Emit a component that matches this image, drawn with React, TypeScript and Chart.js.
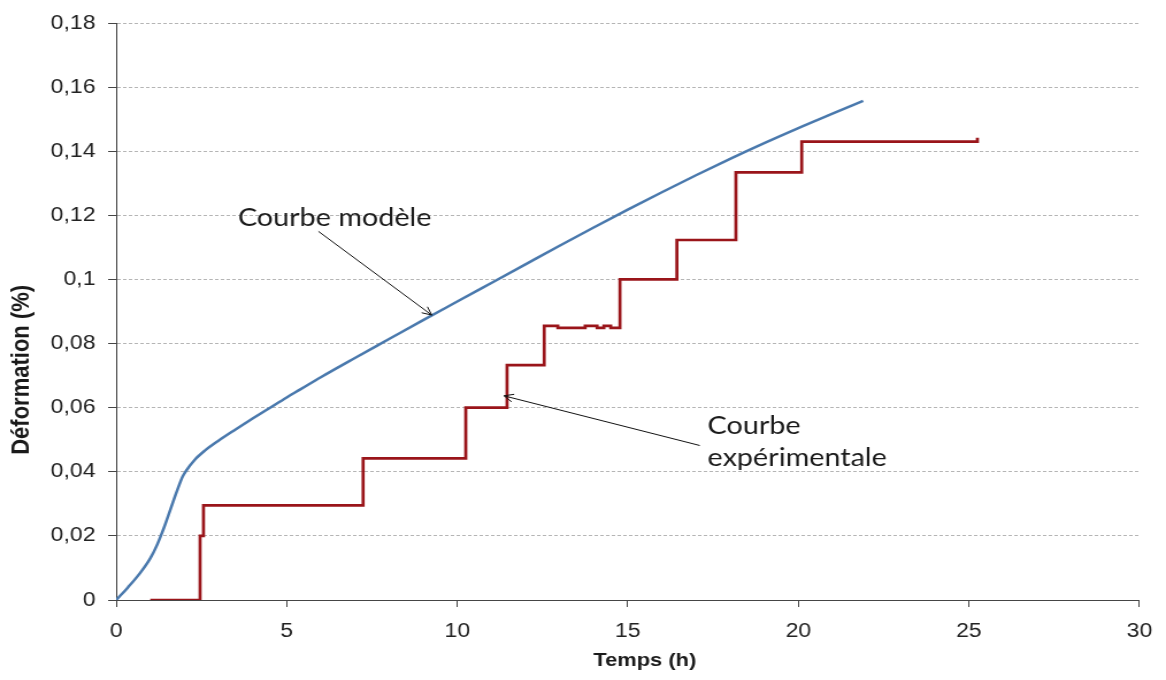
import React, { useEffect, useRef } from 'react';
import { Chart, registerables } from 'chart.js';

Chart.register(...registerables);

// ---- data ----
const modelTime = [0, 0.35, 0.7, 1.0, 1.2, 1.4, 1.6, 1.8, 1.95, 2.05, 2.3, 2.6, 3.0, 3.5, 4.0, 4.5, 5, 5.4, 6, 7, 8, 9, 10, 11, 12, 13, 14, 15, 16, 17, 18, 19, 20, 21, 21.9];
const modelDeformation = [0, 0.004, 0.0084, 0.013, 0.0172, 0.0225, 0.0285, 0.0345, 0.0385, 0.0403, 0.0437, 0.0466, 0.0497, 0.0532, 0.0566, 0.0599, 0.0632, 0.0657, 0.0695, 0.0755, 0.0814, 0.0873, 0.0931, 0.0989, 0.1047, 0.1105, 0.1162, 0.1218, 0.1272, 0.1325, 0.1376, 0.1425, 0.1472, 0.1517, 0.1557];

const expTime = [1, 2.46, 2.56, 7.24, 10.25, 11.46, 12.55, 12.95, 13.75, 14.1, 14.3, 14.5, 14.77, 16.44, 18.17, 20.1, 25.25];
const expDeformation = [0, 0.02, 0.0295, 0.0442, 0.06, 0.0733, 0.0855, 0.0849, 0.0855, 0.0849, 0.0855, 0.0849, 0.1, 0.1123, 0.1334, 0.143, 0.1442];

const xTickLabels = ['0', '5', '10', '15', '20', '25', '30'];
const yTickLabels = ['0', '0,02', '0,04', '0,06', '0,08', '0,1', '0,12', '0,14', '0,16', '0,18'];
const xTitle = 'Temps (h)';
const yTitle = 'Déformation (%)';

const annotationTexts = [['Courbe modèle'], ['Courbe', 'expérimentale']];
const annotationAnchors = [[3.57, 0.1168], [17.34, 0.0518]];
const arrowFrom = [[5.93, 0.115], [17.11, 0.0482]];
const arrowTo = [[9.25, 0.0889], [11.37, 0.0637]];

// axis-title anchors (centre of each title, in data units along its axis)
const xTitleCenter = 15.5;
const yTitleCenter = 0.0718;

// ---- sizing: the reference is horizontally stretched ----
const DISPLAY_W = 1166;
const DISPLAY_H = 680;
const CANVAS_W = 1014;

const annotationPlugin = {
  id: 'annotations',
  afterDatasetsDraw(chart: any) {
    const { ctx, scales } = chart;
    const xs = scales.x;
    const ys = scales.y;
    ctx.save();
    ctx.strokeStyle = '#111';
    ctx.lineWidth = 1;
    ctx.setLineDash([]);
    for (let i = 0; i < arrowFrom.length; i++) {
      const x1 = xs.getPixelForValue(arrowFrom[i][0]);
      const y1 = ys.getPixelForValue(arrowFrom[i][1]);
      const x2 = xs.getPixelForValue(arrowTo[i][0]);
      const y2 = ys.getPixelForValue(arrowTo[i][1]);
      ctx.beginPath();
      ctx.moveTo(x1, y1);
      ctx.lineTo(x2, y2);
      ctx.stroke();
      const ang = Math.atan2(y2 - y1, x2 - x1);
      const len = 9;
      const spread = 0.45;
      ctx.beginPath();
      ctx.moveTo(x2 - len * Math.cos(ang - spread), y2 - len * Math.sin(ang - spread));
      ctx.lineTo(x2, y2);
      ctx.lineTo(x2 - len * Math.cos(ang + spread), y2 - len * Math.sin(ang + spread));
      ctx.stroke();
    }
    ctx.fillStyle = '#1a1a1a';
    ctx.font = '25px Lato';
    ctx.textAlign = 'left';
    ctx.textBaseline = 'alphabetic';
    for (let i = 0; i < annotationTexts.length; i++) {
      const x = xs.getPixelForValue(annotationAnchors[i][0]);
      const y = ys.getPixelForValue(annotationAnchors[i][1]);
      annotationTexts[i].forEach((line, k) => {
        ctx.fillText(line, x, y + k * 32);
      });
    }

    // axis titles
    ctx.fillStyle = '#1a1a1a';
    ctx.textAlign = 'center';
    ctx.textBaseline = 'middle';
    ctx.font = 'bold 19px "Liberation Sans"';
    ctx.fillText(xTitle, xs.getPixelForValue(xTitleCenter), 661);
    ctx.save();
    ctx.translate(19, ys.getPixelForValue(yTitleCenter));
    ctx.rotate(-Math.PI / 2);
    ctx.font = 'bold 22px "Liberation Sans"';
    ctx.fillText(yTitle, 0, 0);
    ctx.restore();
    ctx.restore();
  },
};

export default function App() {
  const canvasRef = useRef<HTMLCanvasElement | null>(null);

  useEffect(() => {
    const canvas = canvasRef.current;
    if (!canvas) return;
    const axisColor = '#454545';
    const chart = new Chart(canvas, {
      type: 'line',
      data: {
        datasets: [
          {
            label: 'Courbe modèle',
            data: modelTime.map((t, i) => ({ x: t, y: modelDeformation[i] })),
            borderColor: '#4a79ad',
            borderWidth: 2.5,
            pointRadius: 0,
            cubicInterpolationMode: 'monotone',
            fill: false,
          },
          {
            label: 'Courbe expérimentale',
            data: expTime.map((t, i) => ({ x: t, y: expDeformation[i] })),
            borderColor: '#9a151a',
            borderWidth: 2.7,
            pointRadius: 0,
            stepped: 'before',
            fill: false,
          },
        ],
      },
      options: {
        animation: false,
        responsive: false,
        devicePixelRatio: 1,
        events: [],
        layout: { padding: { left: 0, right: 23, top: 21, bottom: 0 } },
        plugins: {
          legend: { display: false },
          tooltip: { enabled: false },
        },
        scales: {
          x: {
            type: 'linear',
            min: 0,
            max: 30,
            afterFit: (s: any) => {
              s.height = 80;
            },
            ticks: {
              stepSize: 5,
              autoSkip: false,
              maxRotation: 0,
              padding: 12,
              color: '#222',
              font: { family: 'Liberation Sans', size: 20 },
              callback: (_v: any, i: number) => xTickLabels[i] ?? '',
            },
            grid: {
              drawOnChartArea: false,
              drawTicks: true,
              tickLength: 7,
              tickColor: axisColor,
              color: axisColor,
            },
            border: { display: true, color: axisColor, width: 1 },
            title: { display: false },
          },
          y: {
            type: 'linear',
            min: 0,
            max: 0.18,
            afterFit: (s: any) => {
              s.width = 101;
            },
            ticks: {
              stepSize: 0.02,
              autoSkip: false,
              padding: 11,
              color: '#222',
              font: { family: 'Liberation Sans', size: 20 },
              callback: (_v: any, i: number) => yTickLabels[i] ?? '',
            },
            grid: {
              drawOnChartArea: true,
              drawTicks: true,
              tickLength: 7,
              tickColor: axisColor,
              tickBorderDash: [],
              color: '#b5b5b5',
              lineWidth: 1,
            },
            border: { display: true, color: axisColor, width: 1, dash: [3, 2] },
            title: { display: false },
          },
        },
      } as any,
      plugins: [annotationPlugin],
    });
    return () => chart.destroy();
  }, []);

  return (
    <div style={{ position: 'absolute', left: 0, top: 0, width: DISPLAY_W, height: DISPLAY_H, background: '#fff' }}>
      <canvas
        ref={canvasRef}
        width={CANVAS_W}
        height={DISPLAY_H}
        style={{ width: `${DISPLAY_W}px`, height: `${DISPLAY_H}px`, display: 'block' }}
      />
    </div>
  );
}
